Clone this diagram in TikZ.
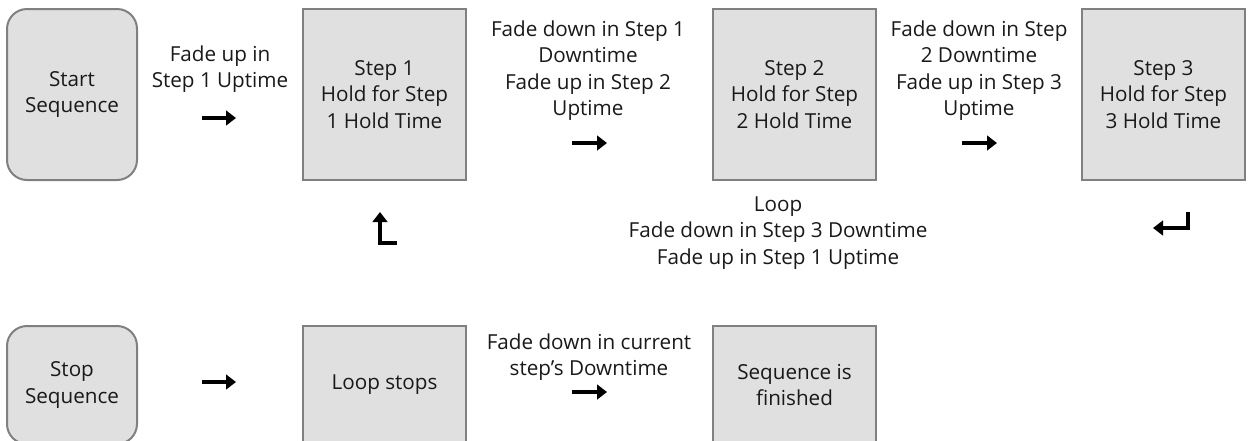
\documentclass[tikz,border=0pt]{standalone}
\usepackage{fontspec}
\setmainfont{Open Sans}
\usetikzlibrary{arrows.meta}
\definecolor{boxfill}{HTML}{E0E0E0}
\definecolor{boxline}{HTML}{808080}

\begin{document}
\begin{tikzpicture}[x=0.75pt,y=-0.75pt,>={Triangle[length=7.5pt,width=11pt]},
    font=\fontsize{15.5}{19.9}\selectfont,text=black!90]
  \tikzstyle{trigger}=[rectangle,rounded corners=15pt,draw=boxline,line width=1.5pt,
              fill=boxfill,minimum width=97.5pt,align=center,inner sep=0pt]
  \tikzstyle{hold}=[rectangle,draw=boxline,line width=1.5pt,
              fill=boxfill,minimum width=122.25pt,align=center,inner sep=0pt]
  \tikzstyle{fade}=[align=center,inner sep=0pt]
  \tikzstyle{glyph}=[->,line width=2.6pt,black]
  \useasboundingbox (0,0) rectangle (1248,440);
    \node [trigger,minimum height=128.25pt] (start) at (72,94.5) {Start\\Sequence};
    \node [hold,minimum height=128.25pt] (step1) at (384.5,94.5) {Step 1\\Hold for Step\\1 Hold Time};
    \node [hold,minimum height=128.25pt] (step2) at (794.5,94.5) {Step 2\\Hold for Step\\2 Hold Time};
    \node [hold,minimum height=128.25pt] (step3) at (1163.5,94.5) {Step 3\\Hold for Step\\3 Hold Time};
    \node [trigger,minimum height=88.5pt] (stop) at (72,385) {Stop\\Sequence};
    \node [hold,minimum height=88.5pt] (stops) at (384.5,385) {Loop stops};
    \node [hold,minimum height=88.5pt] (done) at (794.5,385) {Sequence is\\finished};
    \node [fade] (up1) at (220,69) {Fade up in\\Step 1 Uptime};
    \node [fade] (down1) at (588,70.5) {Fade down in Step 1\\Downtime\\Fade up in Step 2\\Uptime};
    \node [fade] (down2) at (979,70.5) {Fade down in Step\\2 Downtime\\Fade up in Step 3\\Uptime};
    \node [fade] (loop) at (778,233) {Loop\\Fade down in Step 3 Downtime\\Fade up in Step 1 Uptime};
    \node [fade] (downcur) at (589,357) {Fade down in current\\step's Downtime};
    \coordinate (a1) at (202,118); \coordinate (b1) at (236,118);
    \coordinate (a2) at (572,143); \coordinate (b2) at (607,143);
    \coordinate (a3) at (962,143); \coordinate (b3) at (997,143);
    \coordinate (a4) at (202,382); \coordinate (b4) at (236,382);
    \coordinate (a5) at (572,392); \coordinate (b5) at (607,392);
    \coordinate (back1) at (397,243); \coordinate (back2) at (380,212);
    \coordinate (ret1) at (1188,212); \coordinate (ret2) at (1153,228);
    \draw [glyph] (a1) -- (b1);
    \draw [glyph] (a2) -- (b2);
    \draw [glyph] (a3) -- (b3);
    \draw [glyph] (a4) -- (b4);
    \draw [glyph] (a5) -- (b5);
    \draw [glyph] (back1) -| (back2);
    \draw [glyph] (ret1) |- (ret2);
\end{tikzpicture}
\end{document}
